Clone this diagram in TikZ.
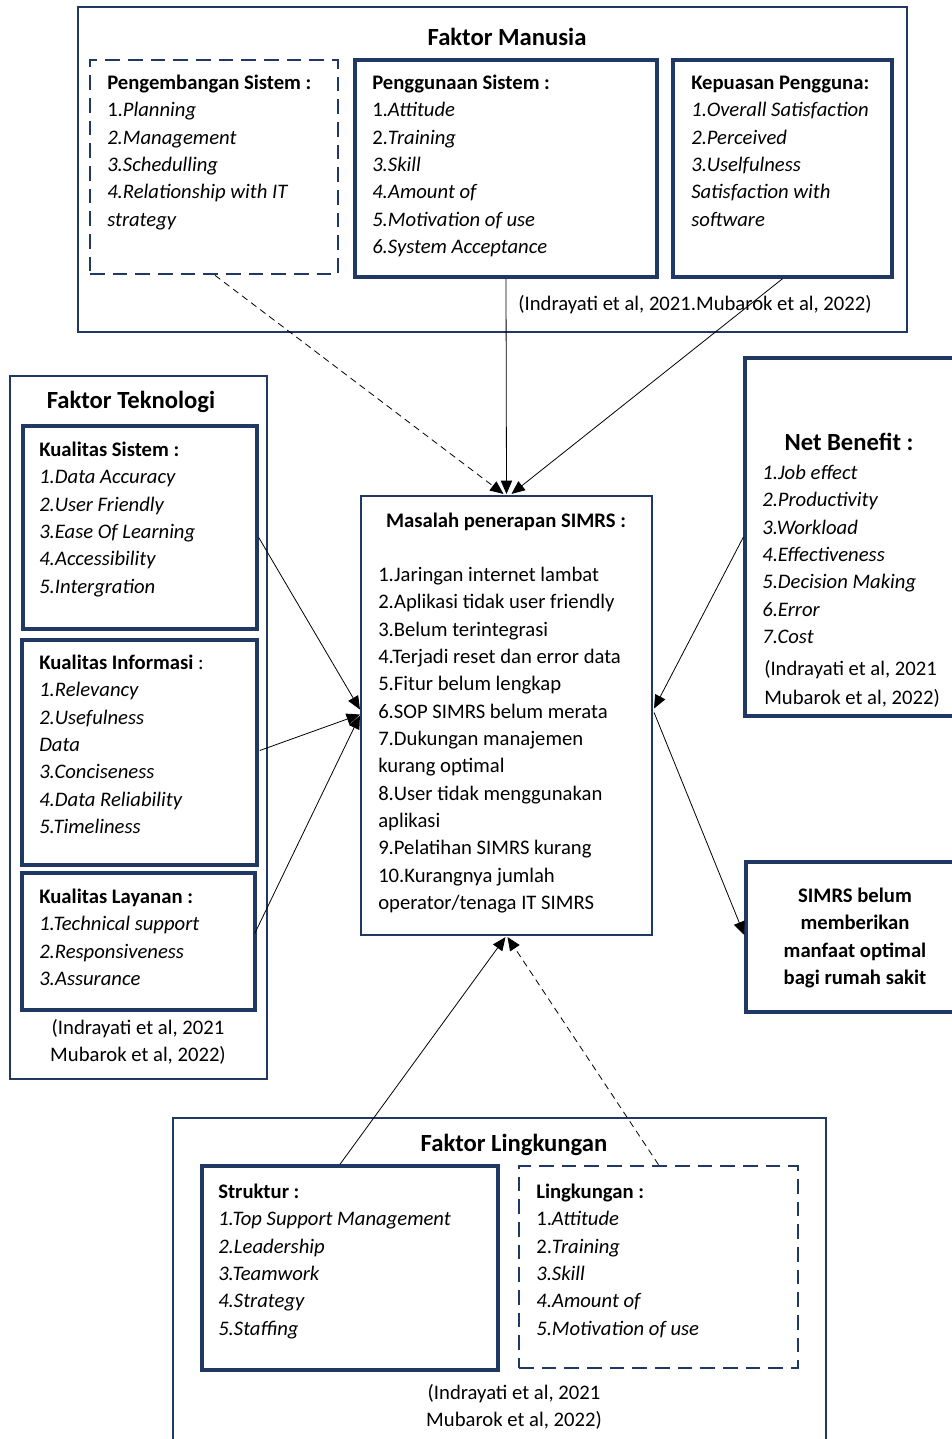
\documentclass[tikz,border=0pt]{standalone}
\usepackage{fontspec}
\setmainfont{Carlito}
\usetikzlibrary{arrows.meta,calc,fit}
\definecolor{navy}{RGB}{31,56,100}
\begin{document}
\begin{tikzpicture}[x=0.75pt,y=-0.75pt,
  outer/.style={draw=navy, line width=1.5pt, inner sep=0pt},
  inner/.style={draw=navy, line width=2.6pt, inner sep=0pt},
  mid/.style={draw=navy, line width=1.6pt, inner sep=0pt},
  dbox/.style={draw=navy, line width=2pt, dash pattern=on 11pt off 6pt, inner sep=0pt},
  conn/.style={line width=0.6pt, -{Triangle[length=10pt,width=8.5pt]}},
  dconn/.style={conn, dash pattern=on 5pt off 3.5pt},
  body/.style={font=\fontsize{15.5}{20.5}\selectfont, align=left, anchor=north west, inner sep=0pt},
  cbody/.style={font=\fontsize{15.5}{20.5}\selectfont, align=center, inner sep=0pt},
  ttl/.style={font=\fontsize{18.5}{22}\selectfont\bfseries, inner sep=0pt}]
\useasboundingbox (0,0) rectangle (952,1439);

% ---------- Faktor Manusia ----------
\node[outer, fit={(78,7) (907,332)}] (fm) {};
\node[ttl] (fmt) at (507,37) {Faktor Manusia};
\node[dbox, fit={(90,60) (338,274)}] (pe) {};
\node[inner, fit={(355,60) (657,277)}] (pg) {};
\node[inner, fit={(673,60) (892,277)}] (kp) {};
\node[body] (pet) at (107,70) {\strut\textbf{Pengembangan Sistem :}\\ 1.\textit{Planning}\\ \textit{2.Management}\\ \textit{3.Schedulling}\\ \textit{4.Relationship with IT}\\ \textit{strategy}};
\node[body] (pgt) at (372,70) {\strut\textbf{Penggunaan Sistem :}\\ 1.\textit{Attitude}\\ 2.\textit{Training}\\ \textit{3.Skill}\\ \textit{4.Amount of}\\ \textit{5.Motivation of use}\\ \textit{6.System Acceptance}};
\node[body] (kpt) at (691,70) {\strut\textbf{Kepuasan Pengguna:}\\ \textit{1.Overall Satisfaction}\\ \textit{2.Perceived}\\ \textit{3.Uselfulness}\\ \textit{Satisfaction with}\\ \textit{software}};
\node[cbody] (fmc) at (695,305) {(Indrayati et al, 2021.Mubarok et al, 2022)};

% ---------- Faktor Teknologi ----------
\node[outer, fit={(10,376) (267,1079)}] (ft) {};
\node[ttl] (ftt) at (131,402) {Faktor Teknologi};
\node[inner, fit={(23,426) (257,629)}] (ks) {};
\node[inner, fit={(22,640) (257,865)}] (ki) {};
\node[inner, fit={(22,873) (255,1010)}] (kl) {};
\node[body] (kst) at (39,437) {\strut\textbf{Kualitas Sistem :}\\ \textit{1.Data Accuracy}\\ \textit{2.User Friendly}\\ \textit{3.Ease Of Learning}\\ \textit{4.Accessibility}\\ \textit{5.Intergration}};
\node[body] (kit) at (39,650) {\strut\textbf{Kualitas Informasi} :\\ \textit{1.Relevancy}\\ \textit{2.Usefulness}\\ \textit{Data}\\ \textit{3.Conciseness}\\ \textit{4.Data Reliability}\\ \textit{5.Timeliness}};
\node[body] (klt) at (39,884) {\strut\textbf{Kualitas Layanan :}\\ \textit{1.Technical support}\\ \textit{2.Responsiveness}\\ \textit{3.Assurance}};
\node[cbody] (ftc) at (138,1042) {(Indrayati et al, 2021\\ Mubarok et al, 2022)};

% ---------- Masalah ----------
\node[mid, fit={(361,496) (652,935)}] (mas) {};
\node[cbody, font=\fontsize{15.5}{20.5}\selectfont\bfseries] (mash) at (506,522) {Masalah penerapan SIMRS :};
\node[body] (mast) at (378,562) {\strut 1.Jaringan internet lambat\\ 2.Aplikasi tidak user friendly\\ 3.Belum terintegrasi\\ 4.Terjadi reset dan error data\\ 5.Fitur belum lengkap\\ 6.SOP SIMRS belum merata\\ 7.Dukungan manajemen\\ kurang optimal\\ 8.User tidak menggunakan\\ aplikasi\\ 9.Pelatihan SIMRS kurang\\ 10.Kurangnya jumlah\\ operator/tenaga IT SIMRS};

% ---------- Net Benefit ----------
\node[inner, line width=2.4pt, fit={(745,358) (965,716)}] (nb) {};
\node[ttl] (nbt) at (849,442) {Net Benefit :};
\node[body] (nbl) at (762,460) {\strut\textit{1.Job effect}\\ \textit{2.Productivity}\\ \textit{3.Workload}\\ \textit{4.Effectiveness}\\ \textit{5.Decision Making}\\ \textit{6.Error}\\ \textit{7.Cost}};
\node[body, font=\fontsize{15.5}{21.5}\selectfont] (nbc) at (764,655) {\strut(Indrayati et al, 2021\\ Mubarok et al, 2022)};

% ---------- SIMRS belum ----------
\node[inner, fit={(746,862) (965,1012)}] (sb) {};
\node[cbody, font=\fontsize{15.5}{20.5}\selectfont\bfseries] (sbt) at (855,938) {SIMRS belum\\ memberikan\\ manfaat optimal\\ bagi rumah sakit};

% ---------- Faktor Lingkungan ----------
\node[outer, fit={(173,1118) (826,1450)}] (fl) {};
\node[ttl] (flt) at (514,1145) {Faktor Lingkungan};
\node[inner, fit={(202,1166) (498,1370)}] (st) {};
\node[dbox, fit={(519,1166) (798,1368)}] (lk) {};
\node[body] (stt) at (218,1179) {\strut\textbf{Struktur :}\\ \textit{1.Top Support Management}\\ \textit{2.Leadership}\\ \textit{3.Teamwork}\\ \textit{4.Strategy}\\ \textit{5.Staffing}};
\node[body] (lkt) at (536,1179) {\strut\textbf{Lingkungan :}\\ 1.\textit{Attitude}\\ 2.\textit{Training}\\ \textit{3.Skill}\\ \textit{4.Amount of}\\ \textit{5.Motivation of use}};
\node[cbody] (flc) at (514,1407) {(Indrayati et al, 2021\\ Mubarok et al, 2022)};

% ---------- Connectors ----------
\draw[dconn] ($(pe.south)+(1,0)$) -- ($(mas.north)+(-3,-1)$);
\draw[conn] (pg.south) -- ($(mas.north)+(0,-1)$);
\draw[conn] (kp.south) -- ($(mas.north)+(5,-1)$);
\draw[conn] ($(ks.east)+(0,10)$) -- ($(mas.west)+(0,-6)$);
\draw[conn] ($(ki.east)+(1,-2)$) -- ($(mas.west)+(0,-1)$);
\draw[conn] ($(kl.east)+(-2,-8)$) -- ($(mas.west)+(0,0)$);
\draw[conn] (nb.west) -- ($(mas.east)+(1,-7)$);
\draw[conn] ($(mas.east)+(1,-3)$) -- ($(sb.west)+(0,-2)$);
\draw[conn] ($(st.north)+(-10,0)$) -- ($(mas.south)+(-1,1)$);
\draw[dconn] (lk.north) -- ($(mas.south)+(1,1)$);
\end{tikzpicture}
\end{document}
